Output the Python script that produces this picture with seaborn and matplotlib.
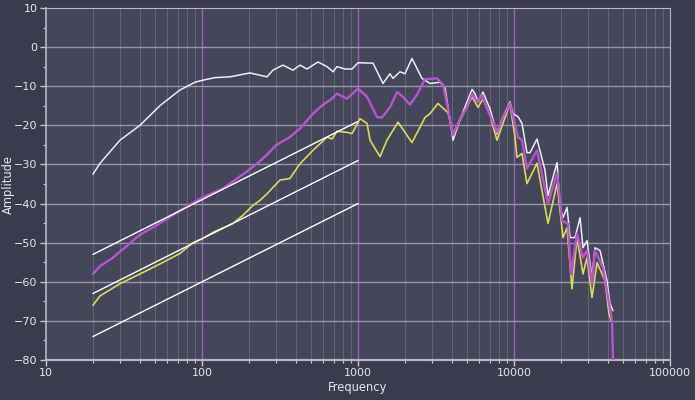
import matplotlib
matplotlib.use("Agg")
import matplotlib.pyplot as plt
import matplotlib.ticker as mticker
import pandas as pd
import seaborn as sns

# white trace
white_freq = [20, 22.2, 29.8, 40, 54, 72, 90, 100, 121, 151, 203, 261, 285, 330, 383, 425,
              471, 554, 633, 692, 733, 826, 916, 1000, 1248, 1446, 1603, 1676, 1859, 2000,
              2218, 2572, 2896, 3357, 3615, 4068, 4510, 5000, 5387, 5623, 5875, 6330, 7015,
              7780, 8500, 9420, 9860, 10620, 11250, 12110, 12670, 14040, 15800, 16520,
              18880, 19730, 20620, 21880, 22870, 24620, 26510, 27690, 29380, 31620, 33050,
              35580, 39450, 41220, 43130]
white_amp = [-32.5, -29.7, -23.8, -20, -14.9, -11, -9, -8.5, -7.8, -7.6, -6.6, -7.6, -5.9,
             -4.6, -5.9, -4.6, -5.6, -3.8, -5, -6.3, -5, -5.6, -5.6, -4, -4.1, -9.3, -6.8,
             -8, -6.3, -6.8, -2.9, -8, -9.3, -9, -10.5, -23.8, -18.5, -14, -10.8, -11.9,
             -14, -11.5, -15.8, -22.2, -17.8, -14, -17, -17.8, -19.5, -27, -27, -23.5,
             -31.5, -38, -29.5, -41, -43.6, -41, -48.7, -48.7, -43.6, -51.3, -49.5, -59,
             -51.3, -52, -59.7, -65.6, -67.4]

# magenta trace
magenta_freq = [20, 22.2, 26.9, 40, 54, 72.3, 100, 136, 151, 194, 230, 261, 300, 366, 425,
                492, 515, 570, 633, 662, 733, 850, 1000, 1143, 1324, 1425, 1603, 1778, 1942,
                2153, 2387, 2687, 3207, 3509, 3778, 4068, 4510, 5000, 5387, 5794, 6237, 6808,
                7780, 8500, 9420, 10150, 10620, 11250, 12110, 14040, 16520, 18880, 20320,
                22180, 23200, 25360, 27690, 29380, 31620, 33050, 37210, 40060, 42490, 43130]
magenta_amp = [-58, -56, -53.8, -48, -45, -41.8, -38.5, -36.2, -34.9, -31.8, -29.5, -27.5,
               -25, -23, -20.8, -17.9, -17, -15.4, -14, -13.6, -11.9, -13.2, -10.6, -12.7,
               -17.9, -18, -15.4, -11.5, -12.7, -14.7, -12.2, -8.2, -8, -9.6, -16, -22.5,
               -18.3, -15.3, -11.9, -14, -12.3, -16.2, -21.7, -17.9, -14.4, -20, -23, -23.8,
               -31, -26.4, -40, -32.3, -44.4, -45.2, -58, -47.7, -53.8, -52, -60.5, -52,
               -56.4, -64, -70, -80]

# yellow trace
yellow_freq = [20, 22.2, 29.8, 40, 54, 72, 87.5, 100, 120, 158, 183, 212, 235, 261, 316, 366,
               425, 515, 633, 681, 733, 850, 916, 1030, 1143, 1194, 1384, 1533, 1805, 2218,
               2572, 2687, 2896, 3258, 3778, 4068, 4510, 5387, 5875, 6330, 7015, 7780, 9420,
               10150, 10450, 11250, 12110, 14040, 16520, 18880, 20620, 21880, 23530, 25360,
               27690, 29380, 31620, 34070, 38280, 40640, 41880]
yellow_amp = [-66, -63.6, -60.5, -58, -55.4, -52.8, -50, -49, -47.2, -45.1, -43, -40.5, -39.2,
              -37.5, -34, -33.6, -29.8, -26.4, -23, -23.5, -21.5, -21.8, -22.1, -18.3, -19.5,
              -23.8, -28, -23.8, -19.2, -24.4, -19.5, -18, -17, -14.4, -16.8, -22.1, -18.7,
              -12.7, -15.4, -13.2, -17.5, -23.8, -14.5, -23, -28.2, -27.2, -34.9, -29.7,
              -45.1, -34.9, -48.7, -46.2, -61.8, -48.7, -58, -53.8, -64, -55.1, -59.7,
              -68.2, -70]

# straight reference lines (20 Hz -> 1000 Hz)
ref_freq = [20, 1000]
ref_a = [-53, -19]
ref_b = [-63, -29]
ref_c = [-74, -40]

fig_bg = "#393c4c"
ax_bg = "#434759"
txt = "#e6e6ee"

sns.set_style("dark")
fig = plt.figure(figsize=(6.95, 4.0), dpi=100, facecolor=fig_bg)
ax = fig.add_axes([46 / 695, 40 / 400, 624 / 695, 352 / 400])
ax.set_facecolor(ax_bg)

ax.set_xscale("log")
ax.set_xlim(10, 100000)
ax.set_ylim(-80, 10)

# grid
for f in [20, 30, 40, 50, 60, 70, 80, 90]:
    for k in [1, 10, 100, 1000]:
        ax.axvline(f * k, color="#60647a", lw=0.8, zorder=0)
for f in [100, 1000, 10000]:
    ax.axvline(f, color="#a05cc0", lw=1.0, zorder=0.5)
for y in range(-70, 10, 10):
    ax.axhline(y, color="#9497aa", lw=1.0, zorder=0.5)

traces = [
    (white_freq, white_amp, "#ececf4", 1.1),
    (yellow_freq, yellow_amp, "#dada55", 1.2),
    (magenta_freq, magenta_amp, "#bb52cf", 1.7),
]
for fq, amp, col, lw in traces:
    df = pd.DataFrame({"Frequency": fq, "Amplitude": amp})
    sns.lineplot(data=df, x="Frequency", y="Amplitude", ax=ax, color=col, lw=lw,
                 estimator=None, sort=False, zorder=3)

for vals in [ref_a, ref_b, ref_c]:
    df = pd.DataFrame({"Frequency": ref_freq, "Amplitude": vals})
    sns.lineplot(data=df, x="Frequency", y="Amplitude", ax=ax, color="white", lw=1.0,
                 estimator=None, sort=False, zorder=4)

# axes styling
for side in ["left", "bottom", "top", "right"]:
    ax.spines[side].set_visible(True)
    ax.spines[side].set_color("#b8b8c8")
ax.spines["bottom"].set_linewidth(1.6)
ax.spines["left"].set_linewidth(1.2)
ax.spines["top"].set_linewidth(0.8)
ax.spines["right"].set_linewidth(0.8)

ax.set_yticks(range(-80, 11, 10))
ax.yaxis.set_minor_locator(mticker.MultipleLocator(5))
ax.xaxis.set_major_locator(mticker.FixedLocator([10, 100, 1000, 10000, 100000]))
ax.xaxis.set_major_formatter(mticker.FuncFormatter(lambda v, p: f"{int(round(v))}"))
ax.xaxis.set_minor_locator(mticker.LogLocator(base=10, subs=range(2, 10)))
ax.xaxis.set_minor_formatter(mticker.NullFormatter())
ax.tick_params(axis="both", which="major", direction="out", length=4, width=1,
               color="#c8c8d4", labelcolor=txt, labelsize=8, pad=2,
               bottom=True, left=True)
ax.tick_params(axis="both", which="minor", direction="out", length=2, width=0.8,
               color="#c8c8d4", bottom=True, left=True)
ax.grid(False)

ax.set_xlabel("Frequency", color=txt, fontsize=8.3, labelpad=2)
ax.set_ylabel("Amplitude", color=txt, fontsize=8.3)
ax.yaxis.set_label_coords(-0.05, 0.5)

fig.savefig("out.png", dpi=100, facecolor=fig_bg)
